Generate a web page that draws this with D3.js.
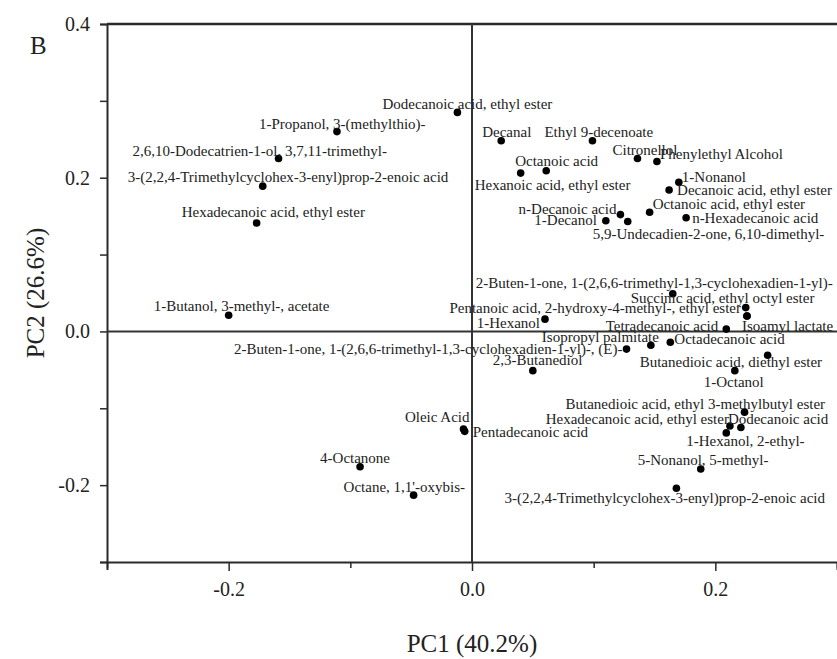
<!DOCTYPE html>
<html>
<head>
<meta charset="utf-8">
<script src="https://cdn.jsdelivr.net/npm/d3@7"></script>
<style>
  body { margin: 0; background: #fff; }
  text { font-family: "Liberation Serif", "Times New Roman", serif; }
</style>
</head>
<body>
<svg width="837" height="659"></svg>
<script>
const width = 837,
    height = 659,
    margin = {top: 24, right: 0, bottom: 97, left: 107};

// compound names, PC1 and PC2 loadings
const names = [
    "Dodecanoic acid, ethyl ester", "1-Propanol, 3-(methylthio)-", "2,6,10-Dodecatrien-1-ol, 3,7,11-trimethyl-",
    "3-(2,2,4-Trimethylcyclohex-3-enyl)prop-2-enoic acid", "Hexadecanoic acid, ethyl ester", "1-Butanol, 3-methyl-, acetate",
    "2-Buten-1-one, 1-(2,6,6-trimethyl-1,3-cyclohexadien-1-yl)-, (E)-", "Oleic Acid", "Pentadecanoic acid",
    "4-Octanone", "Octane, 1,1'-oxybis-", "Decanal", "Ethyl 9-decenoate", "Citronellol", "Phenylethyl Alcohol",
    "Octanoic acid", "Hexanoic acid, ethyl ester", "1-Nonanol", "Decanoic acid, ethyl ester", "Octanoic acid, ethyl ester",
    "n-Decanoic acid", "1-Decanol", "5,9-Undecadien-2-one, 6,10-dimethyl-", "n-Hexadecanoic acid",
    "2-Buten-1-one, 1-(2,6,6-trimethyl-1,3-cyclohexadien-1-yl)-", "Succinic acid, ethyl octyl ester",
    "Pentanoic acid, 2-hydroxy-4-methyl-, ethyl ester", "Isoamyl lactate", "Tetradecanoic acid", "1-Hexanol",
    "Isopropyl palmitate", "Octadecanoic acid", "2,3-Butanediol", "Butanedioic acid, diethyl ester", "1-Octanol",
    "Butanedioic acid, ethyl 3-methylbutyl ester", "Hexadecanoic acid, ethyl ester", "Dodecanoic acid",
    "1-Hexanol, 2-ethyl-", "5-Nonanol, 5-methyl-", "3-(2,2,4-Trimethylcyclohex-3-enyl)prop-2-enoic acid"
];
const pc1 = [
    -0.012, -0.111, -0.159, -0.172, -0.177, -0.200, 0.127, -0.007, -0.006,
    -0.092, -0.048, 0.024, 0.099, 0.136, 0.152, 0.061, 0.040, 0.170, 0.162, 0.146,
    0.122, 0.110, 0.128, 0.176, 0.165, 0.225, 0.226, 0.226, 0.209, 0.060,
    0.147, 0.163, 0.050, 0.243, 0.216, 0.224, 0.212, 0.221, 0.209, 0.188, 0.168
];
const pc2 = [
    0.285, 0.260, 0.225, 0.189, 0.141, 0.021, -0.023, -0.127, -0.130,
    -0.176, -0.213, 0.248, 0.248, 0.225, 0.221, 0.209, 0.206, 0.194, 0.184, 0.155,
    0.152, 0.144, 0.143, 0.148, 0.049, 0.031, 0.020, 0.020, 0.003, 0.016,
    -0.018, -0.014, -0.051, -0.031, -0.051, -0.105, -0.123, -0.125, -0.132, -0.179, -0.204
];
const xTicks = [-0.3, -0.2, -0.1, 0.0, 0.1, 0.2, 0.3];
const yTicks = [-0.3, -0.2, -0.1, 0.0, 0.1, 0.2, 0.3, 0.4];
const xLabelled = [-0.2, 0.0, 0.2];
const yLabelled = [-0.2, 0.0, 0.2, 0.4];

// hand placement of each label relative to its dot: [dx, dy, anchor]
const labelOffsets = [
    [-75, -8, "start"], [-78, -8, "start"], [-146, -7, "start"],
    [-135, -9, "start"], [-75, -11, "start"], [-75, -9, "start"],
    [-4, 0, "end"], [6, -12, "end"], [8, 1, "start"],
    [-40, -9, "start"], [-70, -8, "start"], [-19, -9, "start"], [-48, -9, "start"], [-25, -8, "start"], [3, -8, "start"],
    [-31, -10, "start"], [-46, 12, "start"], [3, -5, "start"], [8, 0, "start"], [3, -8, "start"],
    [-4, -6, "end"], [-9, -1, "end"], [-35, 13, "start"], [6, 0, "start"],
    [-197, -11, "start"], [-115, -10, "start"],
    [-6, -8, "end"], [-5, 10, "start"], [-8, -3, "end"], [-5, 4, "end"],
    [-109, -8, "start"], [4, -3, "start"], [-40, -11, "start"], [-128, 7, "start"], [-31, 11, "start"],
    [-179, -8, "start"], [-1, -7, "end"], [-13, -8, "start"],
    [-40, 8, "start"], [-63, -9, "start"], [-172, 10, "start"]
];

const data = names.map((n, i) => ({name: n, x: pc1[i], y: pc2[i], off: labelOffsets[i]}));

const svg = d3.select("svg");

const x = d3.scaleLinear()
    .domain([-0.3, 0.3])
    .range([margin.left, width - margin.right]);
const y = d3.scaleLinear()
    .domain([-0.3, 0.4])
    .range([height - margin.bottom, margin.top]);

// plain hyphen for negatives, like the original
const fmt = d => d3.format(".1f")(d).replace("\u2212", "-");
const isLabelled = (arr, d) => arr.some(v => Math.abs(v - d) < 1e-9);
const axisColor = "#2a2a2a";

// bottom axis
const gx = svg.append("g")
    .attr("transform", "translate(0," + y(-0.3) + ")")
    .call(d3.axisBottom(x).tickValues(xTicks)
        .tickSize(8)
        .tickPadding(12)
        .tickFormat(d => isLabelled(xLabelled, d) ? fmt(d) : ""));

// left axis
const gy = svg.append("g")
    .attr("transform", "translate(" + x(-0.3) + ",0)")
    .call(d3.axisLeft(y).tickValues(yTicks)
        .tickSize(7)
        .tickPadding(10)
        .tickFormat(d => isLabelled(yLabelled, d) ? fmt(d) : ""));

[gx, gy].forEach(g => {
    g.select(".domain").attr("stroke", axisColor).attr("stroke-width", 2);
    g.selectAll(".tick line").attr("stroke", axisColor).attr("stroke-width", 1.5);
    g.selectAll(".tick text")
        .attr("fill", "#222")
        .style("font-size", "20px")
        .style("font-family", "'Liberation Serif', serif");
});
gx.selectAll(".tick line").attr("y2", d => isLabelled(xLabelled, d) ? 9 : 6);

// top frame line
svg.append("line")
    .attr("x1", x(-0.3)).attr("x2", x(0.3))
    .attr("y1", y(0.4)).attr("y2", y(0.4))
    .attr("stroke", axisColor).attr("stroke-width", 2.5);

// zero lines
svg.append("line")
    .attr("x1", x(0)).attr("x2", x(0))
    .attr("y1", y(0.4)).attr("y2", y(-0.3))
    .attr("stroke", "#333").attr("stroke-width", 2);
svg.append("line")
    .attr("x1", x(-0.3)).attr("x2", x(0.3))
    .attr("y1", y(0)).attr("y2", y(0))
    .attr("stroke", "#333").attr("stroke-width", 2);

// points
svg.append("g")
    .selectAll("circle")
    .data(data)
    .enter().append("circle")
    .attr("cx", d => x(d.x))
    .attr("cy", d => y(d.y))
    .attr("r", 3.8)
    .attr("fill", "#000");

// labels
svg.append("g")
    .selectAll("text")
    .data(data)
    .enter().append("text")
    .attr("x", d => x(d.x) + d.off[0])
    .attr("y", d => y(d.y) + d.off[1])
    .attr("dy", "0.33em")
    .attr("text-anchor", d => d.off[2])
    .style("font-size", "15px")
    .style("fill", "#222")
    .text(d => d.name);

// axis titles and panel letter
svg.append("text")
    .attr("x", x(0))
    .attr("y", 652)
    .attr("text-anchor", "middle")
    .style("font-size", "25px")
    .style("fill", "#222")
    .text("PC1 (40.2%)");

svg.append("text")
    .attr("transform", "translate(44," + y(0.05) + ") rotate(-90)")
    .attr("text-anchor", "middle")
    .style("font-size", "25px")
    .style("fill", "#222")
    .text("PC2 (26.6%)");

svg.append("text")
    .attr("x", 30)
    .attr("y", 54)
    .style("font-size", "25px")
    .style("fill", "#222")
    .text("B");
</script>
</body>
</html>
